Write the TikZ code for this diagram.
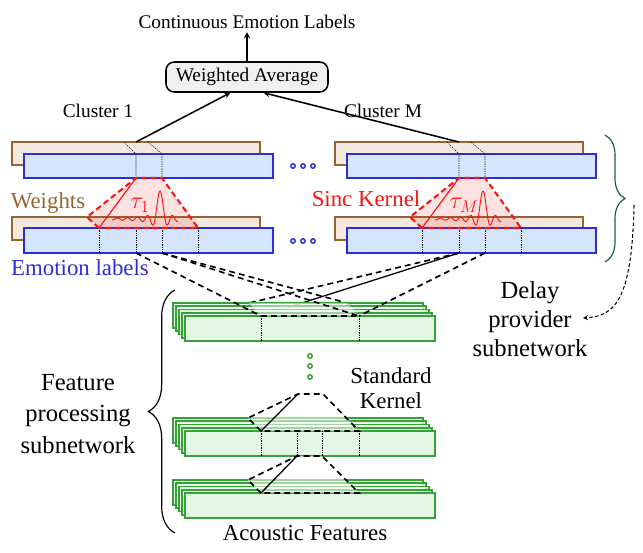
\documentclass[tikz,border=0pt]{standalone}
\usepackage{amsmath}
\usepackage{fontspec}
\setmainfont{Liberation Serif}
\usepackage{tikz}
\usetikzlibrary{positioning, arrows, decorations.pathreplacing}

\definecolor{wbrown}{RGB}{150,100,50}
\definecolor{wfill}{RGB}{243,233,222}
\definecolor{eblue}{RGB}{45,45,215}
\definecolor{efill}{RGB}{213,230,252}
\definecolor{fgreen}{RGB}{55,160,55}
\definecolor{ffill}{RGB}{228,246,230}
\definecolor{bgreen}{RGB}{25,95,55}
\definecolor{kred}{RGB}{250,20,20}

\tikzstyle{wbar} = [draw=wbrown, fill=wfill, line width=1.5pt]
\tikzstyle{ebar} = [draw=eblue, fill=efill, line width=1.5pt]
\tikzstyle{fbar} = [draw=fgreen, fill=ffill, line width=1.5pt]
\tikzstyle{avg} = [rectangle, rounded corners=0.25cm, minimum width=4.86cm, minimum height=0.9cm, text centered, draw=black, fill=gray!12, line width=1.3pt]
\tikzstyle{arrow} = [line width=1.3pt,->,>=stealth]
\tikzstyle{slot} = [dash pattern=on 1pt off 1pt, line width=0.5pt]
\tikzstyle{kline} = [dash pattern=on 5pt off 3.5pt, line width=1.4pt]
\tikzstyle{sinc} = [draw=kred, dash pattern=on 5pt off 3pt, line width=1.8pt]
\tikzstyle{lbl} = [font=\fontsize{16.5}{19}\selectfont]
\tikzstyle{biglbl} = [font=\fontsize{19.5}{20}\selectfont]
\tikzstyle{sublbl} = [font=\fontsize{21}{25}\selectfont, align=center]
\tikzstyle{dot} = [line width=1.2pt]
\def\px{0.03cm}

% stack of feature maps, front face top at #1
\newcommand{\fstack}[1]{%
  \foreach \k in {4,3,2,1}
    \draw[fbar, fill opacity=0.75] (185-3*\k,#1-3.25*\k) rectangle ++(250,25);
  \draw[fbar] (185,#1) rectangle ++(250,25);
}

\begin{document}
\begin{tikzpicture}[x=\px, y=-\px]
\useasboundingbox (0,0) rectangle (643,552);

% output side
\node (wa) [avg, lbl] at (247,77) {Weighted Average};
\node (title) [lbl, above=0.87cm of wa, inner sep=2.5pt] {Continuous Emotion Labels};
\draw [arrow] (wa) -- (title);
\node (cl1) [lbl] at (98,111) {Cluster 1};
\node (clm) [lbl] at (383,111) {Cluster M};
\coordinate (c1) at (136,142);
\coordinate (cm) at (459,142);

% weights and emotion labels
\draw [wbar] (12,142) rectangle (260,165);
\draw [ebar] (24,154) rectangle (273,178);
\draw [wbar] (335,142) rectangle (583,165);
\draw [ebar] (347,154) rectangle (596,178);
\draw [wbar] (12,217) rectangle (260,240);
\draw [ebar] (24,228) rectangle (273,253);
\draw [wbar] (335,217) rectangle (583,240);
\draw [ebar] (347,228) rectangle (596,253);

\draw [slot] (124,142) -- (136,154) -- (136,178);
\draw [slot] (148,142) -- (162,154) -- (162,178);
\draw [slot] (447,142) -- (459,154) -- (459,178);
\draw [slot] (471,142) -- (485,154) -- (485,178);
\foreach \x in {99,136,162,198,422,459,485,521}
  \draw [slot] (\x,228) -- (\x,253);

\foreach \x in {293,303,313} {
  \draw [dot, draw=eblue, fill=efill] (\x,166) circle (1.9pt);
  \draw [dot, draw=eblue, fill=efill] (\x,241) circle (1.9pt);
}

\draw [arrow] (c1) -- ([xshift=-0.5cm]wa.south);
\draw [arrow] (cm) -- ([xshift=0.5cm]wa.south);

% sinc kernels
\begin{scope}
\fill [kred, fill opacity=0.13] (87,217) -- (136,178) -- (162,178) -- (198,228) -- (99,228) -- cycle;
\draw [sinc] (99,228) -- (87,217) -- (136,178) -- (162,178) -- (198,228) -- cycle;
\draw [kred, line width=1pt] (99,228) -- (136,178);
\draw [kred, line width=0.8pt] plot[domain=112:178, samples=220, smooth] (\x,{219-28*sin(180*(\x-160.001)/5)/(pi*(\x-160.001)/5)});
\node (tau1) [kred, font=\fontsize{20}{24}\selectfont] at (140,205) {$\tau_1$};
\end{scope}
\begin{scope}[shift={(323,0)}]
\fill [kred, fill opacity=0.13] (87,217) -- (136,178) -- (162,178) -- (198,228) -- (99,228) -- cycle;
\draw [sinc] (99,228) -- (87,217) -- (136,178) -- (162,178) -- (198,228) -- cycle;
\draw [kred, line width=1pt] (99,228) -- (136,178);
\draw [kred, line width=0.8pt] plot[domain=112:178, samples=220, smooth] (\x,{219-28*sin(180*(\x-160.001)/5)/(pi*(\x-160.001)/5)});
\node (tauM) [kred, font=\fontsize{20}{24}\selectfont] at (141,205) {$\tau_M$};
\end{scope}

\node (wlbl) [biglbl, text=wbrown] at (48,203) {Weights};
\node (elbl) [biglbl, text=eblue] at (80,268) {Emotion labels};
\node (slbl) [biglbl, text=kred] at (366,199) {Sinc Kernel};

% delay provider
\draw [decorate, decoration={brace, amplitude=0.6cm}, draw=bgreen, line width=1pt] (605,135) -- (605,262);
\node (dps) [sublbl] at (530,319) {Delay\\provider\\subnetwork};
\coordinate (dstart) at (634,205);
\coordinate (dend) at (583,318);
\draw [densely dashed, line width=0.9pt, -stealth] (dstart) .. controls (632,300) and (615,316) .. (dend);

% labels down to the first feature stack
\coordinate (l1) at (136,253);
\coordinate (l2) at (162,253);
\coordinate (r1) at (459,253);
\coordinate (r2) at (485,253);
\coordinate (kfl) at (261,316);
\coordinate (kfr) at (359,316);
\coordinate (kbl) at (249,303);
\coordinate (kbr) at (347,303);
\draw [kline] (r1) -- (kbl);
\draw [line width=1.1pt] (r1) -- (kfl);
\draw [kline] (l2) -- (kbr);
\draw [kline] (kbl) -- (kfl);
\draw [kline] (kbr) -- (kfr);
\fstack{316}
\fill [white, fill opacity=0.5] (kbl) -- (kbr) -- (kfr) -- (kfl) -- cycle;
\draw [kline] (l1) -- (kfl);
\draw [kline] (l2) -- (kfr);
\draw [kline] (r2) -- (kfr);
\draw [kline] (kfl) -- (kfr);
\draw [slot] (261,316) -- (261,341);
\draw [slot] (359,316) -- (359,341);

\foreach \y in {356,366,377}
  \draw [dot, draw=fgreen, fill=white] (310,\y) circle (1.9pt);

% standard kernels
\fstack{431}
\coordinate (m1) at (298,394);
\coordinate (m2) at (323,394);
\coordinate (mfl) at (261,431);
\coordinate (mfr) at (359,431);
\coordinate (mbl) at (248,418);
\fill [white, fill opacity=0.55] (mbl) -- (m1) -- (m2) -- (mfr) -- (mfl) -- cycle;
\draw [kline] (mfl) -- (mbl) -- (m1) -- (m2) -- (mfr) -- cycle;
\draw [line width=1.1pt] (m1) -- (mfl);
\foreach \x in {261,297,322,359}
  \draw [slot] (\x,431) -- (\x,456);

\fstack{493}
\coordinate (n1) at (297,456);
\coordinate (n2) at (322,456);
\coordinate (nfl) at (261,493);
\coordinate (nfr) at (359,493);
\coordinate (nbl) at (248,480);
\fill [white, fill opacity=0.55] (nbl) -- (n1) -- (n2) -- (nfr) -- (nfl) -- cycle;
\draw [kline] (nfl) -- (nbl) -- (n1) -- (n2) -- (nfr) -- cycle;
\draw [line width=1.1pt] (n1) -- (nfl);

\node (std) [biglbl, align=center, font=\fontsize{19.5}{21}\selectfont] at (391,388) {Standard\\Kernel};
\node (ac) [biglbl] at (305,533) {Acoustic Features};

% feature processing
\draw [decorate, decoration={brace, amplitude=0.8cm}, line width=1pt] (175,533) -- (175,290);
\node (fps) [sublbl, font=\fontsize{21}{27}\selectfont] at (78,414) {Feature\\processing\\subnetwork};

\end{tikzpicture}
\end{document}
